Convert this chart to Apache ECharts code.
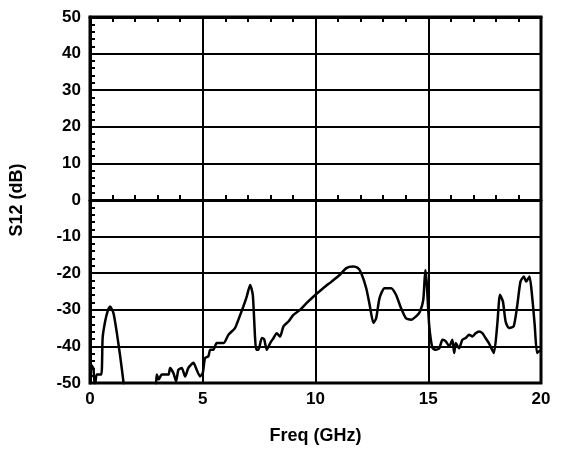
<!DOCTYPE html>
<html>
<head>
<meta charset="utf-8">
<script src="https://cdn.jsdelivr.net/npm/echarts@6/dist/echarts.min.js"></script>
<style>html,body{margin:0;padding:0;background:#fff}#c{width:562px;height:450px}</style>
</head>
<body>
<div id="c"></div>
<script>
var freqGHz = [0,0.1,0.15,0.22,0.3,0.5,0.56,0.67,0.8,0.89,1.04,1.18,1.33,1.48,1.6,2.2,2.85,2.96,3.05,3.18,3.48,3.55,3.7,3.82,3.92,4.07,4.22,4.36,4.59,4.73,4.88,5.0,5.1,5.25,5.33,5.47,5.62,5.92,6.14,6.43,6.58,6.8,6.95,7.1,7.22,7.37,7.47,7.62,7.72,7.84,7.99,8.14,8.28,8.43,8.58,8.8,9.02,9.32,9.6,10.0,10.34,10.71,11.07,11.37,11.66,11.88,12.03,12.25,12.4,12.57,12.69,12.84,13.06,13.35,13.57,13.79,14.01,14.24,14.46,14.63,14.78,14.87,14.93,15.04,15.19,15.34,15.49,15.63,15.78,15.93,16.07,16.15,16.22,16.37,16.51,16.66,16.81,16.96,17.1,17.25,17.4,17.54,17.69,17.91,18.06,18.18,18.31,18.43,18.57,18.79,18.94,19.09,19.24,19.34,19.49,19.6,19.72,19.82,19.9,20.0];
var s12dB = [-44.5,-45.5,-46,-51,-47.7,-47.7,-37.7,-33.2,-30,-29.1,-30.9,-35.9,-42.3,-49.5,-56,-57,-55,-47.7,-49,-47.7,-47.7,-45.9,-47.3,-49.5,-46.4,-45.9,-48.2,-45.9,-44.5,-46.4,-48.2,-47.3,-43.2,-42.7,-40.9,-40.9,-39.1,-39.1,-36.8,-35,-32.7,-29.1,-26.4,-23.2,-25.9,-40.9,-40.9,-37.7,-38,-40.9,-39.1,-37.7,-36.4,-37.3,-34.5,-33.2,-31.4,-30,-28.2,-25.9,-24.1,-22.3,-20.5,-18.6,-18.2,-18.6,-20,-24.1,-28.6,-33.6,-32.3,-26.8,-24.1,-24.1,-25.9,-29.5,-32.3,-32.7,-31.8,-30.5,-27.3,-19.1,-22.3,-34.1,-40.5,-40.9,-40.5,-38.2,-38.6,-40,-38.2,-41.8,-39.1,-40.5,-38.2,-37.7,-36.8,-37.3,-36.4,-35.9,-36.4,-37.7,-39.1,-41.8,-34.1,-25.9,-27.7,-33.2,-35,-34.5,-29.1,-22.3,-20.9,-22.3,-20.9,-25.9,-34.1,-41.8,-41.4,-41];
var xTicks = [0,5,10,15,20];
var yTicks = [-50,-40,-30,-20,-10,0,10,20,30,40,50];

var data = freqGHz.map(function(f,i){return [f, s12dB[i]];});
var font = 'Liberation Sans, Arial, sans-serif';
var chart = echarts.init(document.getElementById('c'));
chart.setOption({
  animation:false,
  grid:{left:90,right:21,top:17,bottom:66,show:true,borderColor:'#000',borderWidth:3},
  xAxis:[{
    type:'value',min:xTicks[0],max:xTicks[xTicks.length-1],interval:5,
    name:'Freq (GHz)',nameLocation:'middle',nameGap:44,
    nameTextStyle:{fontFamily:font,fontWeight:'bold',fontSize:18,color:'#000'},
    axisLine:{show:true,lineStyle:{color:'#000',width:3}},
    axisTick:{show:true,inside:true,length:5,lineStyle:{color:'#000',width:2}},
    minorTick:{show:true,splitNumber:5,length:5,lineStyle:{color:'#000',width:2}},
    axisLabel:{fontFamily:font,fontWeight:'bold',fontSize:17,color:'#000',margin:8},
    splitLine:{show:true,lineStyle:{color:'#000',width:2}}
  },{
    type:'value',position:'top',min:0,max:20,interval:5,
    axisLine:{show:true,lineStyle:{color:'#000',width:3}},
    axisTick:{show:true,inside:true,length:5,lineStyle:{color:'#000',width:2}},
    minorTick:{show:true,splitNumber:5,length:5,lineStyle:{color:'#000',width:2}},
    axisLabel:{show:false},splitLine:{show:false}
  }],
  yAxis:{
    type:'value',min:yTicks[0],max:yTicks[yTicks.length-1],interval:10,
    name:'S12 (dB)',nameLocation:'middle',nameGap:64,nameRotate:90,
    nameTextStyle:{fontFamily:font,fontWeight:'bold',fontSize:18,color:'#000'},
    axisLine:{show:true,lineStyle:{color:'#000',width:3}},
    axisTick:{show:true,inside:true,length:5,lineStyle:{color:'#000',width:2}},
    minorTick:{show:true,splitNumber:5,length:5,lineStyle:{color:'#000',width:2}},
    axisLabel:{fontFamily:font,fontWeight:'bold',fontSize:17,color:'#000',margin:9},
    splitLine:{show:true,lineStyle:{color:'#000',width:2}}
  },
  series:[{
    type:'line',data:data,showSymbol:false,clip:true,smooth:0.2,
    lineStyle:{color:'#000',width:2.5}
  }]
});
</script>
</body>
</html>
